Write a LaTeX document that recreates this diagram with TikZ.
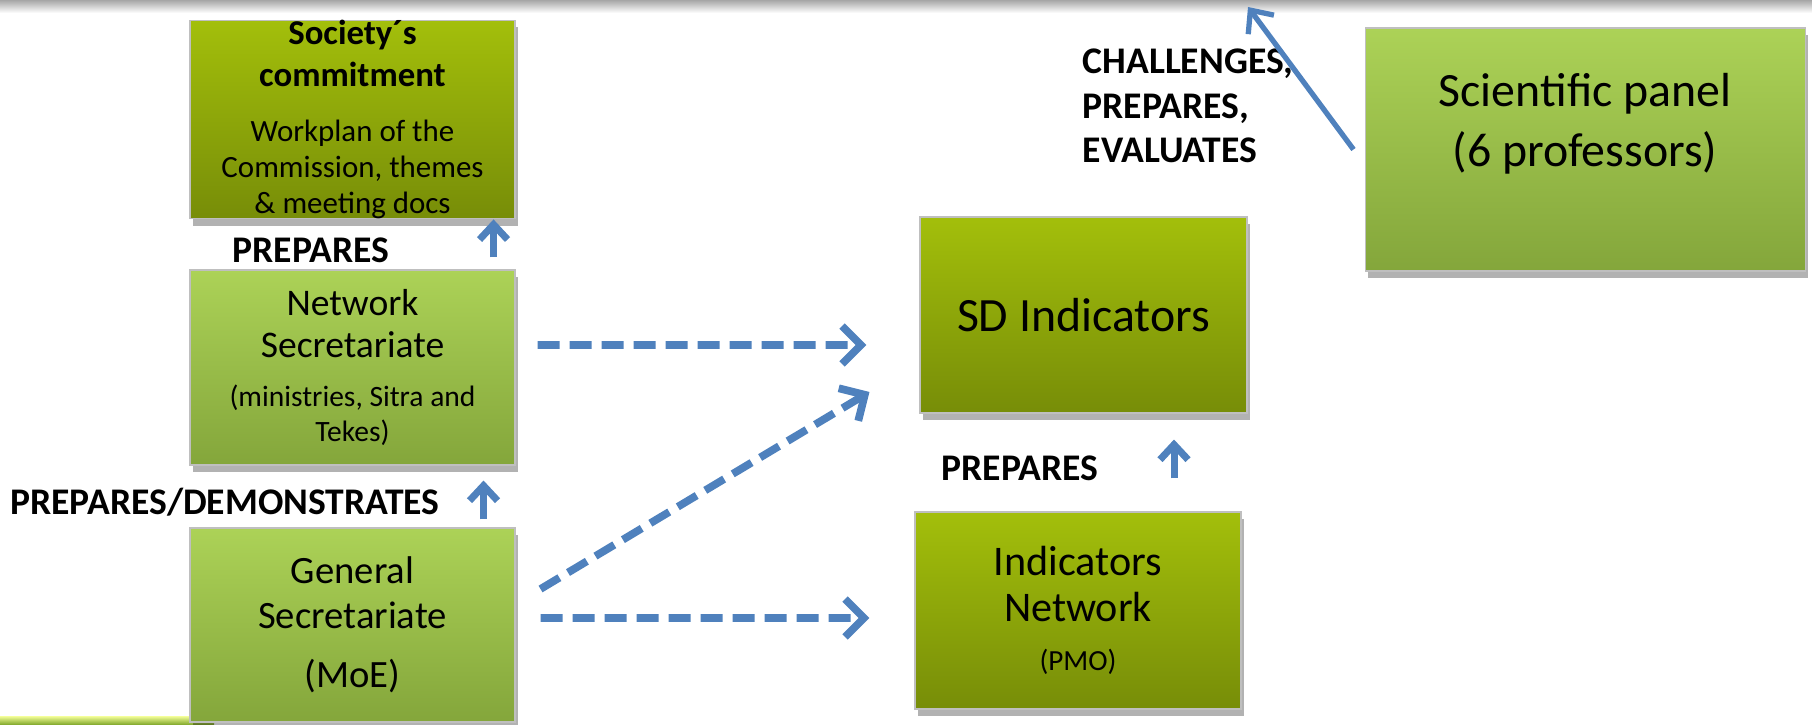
\documentclass[tikz,border=0pt]{standalone}
\usepackage{fontspec}
\setmainfont{Carlito}
\usetikzlibrary{arrows.meta, shadows, calc, positioning}
\definecolor{oliveTop}{HTML}{A3BF0B}
\definecolor{oliveBot}{HTML}{778D08}
\definecolor{limeTop}{HTML}{ACD257}
\definecolor{limeBot}{HTML}{84A63B}
\definecolor{arrowBlue}{HTML}{4F81BD}
\tikzset{
    boxBase/.style={rectangle, draw=black!25, line width=0.3pt, inner sep=0pt, align=flush center, text width=31.5mm,
        drop shadow={shadow xshift=0.3mm, shadow yshift=-0.7mm, opacity=0.3, fill=black}},
    boxOlive/.style={boxBase, top color=oliveTop, bottom color=oliveBot},
    boxLime/.style={boxBase, top color=limeTop, bottom color=limeBot},
    verbLabel/.style={font=\bfseries\fontsize{10.7}{12.6}\selectfont, inner sep=0pt},
    upArrow/.style={-{Straight Barb[length=1.5mm, width=2.8mm]}, arrowBlue, line width=2pt},
    dashArrow/.style={-{Straight Barb[length=1.9mm, width=3.8mm]}, arrowBlue, line width=2.2pt, dash pattern=on 2.2mm off 1mm},
    panelArrow/.style={-{Straight Barb[length=1.8mm, width=3.2mm]}, arrowBlue, line width=1.5pt},
}

\begin{document}
\begin{tikzpicture}[x=0.1mm, y=0.1mm]
    \useasboundingbox (0,0) rectangle (1812,724);

    % slide edges
    \shade[top color=gray!70, bottom color=white] (0,711) rectangle (1812,724);
    \shade[top color=green!10!yellow!40, bottom color=green!30!yellow!60!black!80] (0,0) rectangle (214,8);

    % boxes
    \node[boxOlive, minimum width=32.5mm, minimum height=19.5mm] (soc) at (352.5,604.5)
        {{\bfseries\fontsize{9.9}{12}\selectfont Society´s\\commitment\par}\vspace{5.5pt}
         {\fontsize{8.8}{10.2}\selectfont Workplan of the\\Commission, themes\\\& meeting docs\par}};
    \node[boxLime, minimum width=32.5mm, minimum height=19.5mm] (net) at (352.5,356.5)
        {{\fontsize{10.7}{12}\selectfont Network\\Secretariate\par}\vspace{4pt}
         {\fontsize{8.4}{10}\selectfont (ministries, Sitra and\\Tekes)\par}};
    \node[boxLime, minimum width=32.5mm, minimum height=19.4mm] (gen) at (352.5,99)
        {{\fontsize{11}{12.8}\selectfont General\\Secretariate\par}\vspace{4pt}
         {\fontsize{11}{12.8}\selectfont (MoE)\par}};
    \node[boxOlive, minimum width=32.7mm, minimum height=19.6mm, font=\fontsize{13.6}{16}\selectfont] (sdi) at (1083.5,409)
        {SD Indicators};
    \node[boxOlive, minimum width=32.6mm, minimum height=19.7mm] (ind) at (1078,113.5)
        {{\fontsize{12}{13}\selectfont Indicators\\Network\par}\vspace{4pt}
         {\fontsize{8.3}{10}\selectfont (PMO)\par}};
    \node[boxLime, minimum width=44mm, minimum height=24.3mm] (sci) at (1585,574.5) {};
    \node[align=center, inner sep=0pt, font=\fontsize{13.6}{17}\selectfont] (sciText) at ([yshift=2.6mm]sci.center)
        {Scientific panel\\(6 professors)};

    % verbs
    \node[verbLabel] (prepTop) at (311,474) {PREPARES};
    \node[verbLabel] (prepDemo) at (225,222) {PREPARES/DEMONSTRATES};
    \node[verbLabel] (prepInd) at (1020,256) {PREPARES};
    \node[verbLabel, align=left, anchor=west] (challenge) at (1082,618) {CHALLENGES,\\PREPARES,\\EVALUATES};

    % arrows
    \coordinate (indUp) at ([xshift=9.6mm]ind.north);
    \coordinate (panelTip) at (1248,717);
    \draw[upArrow, shorten <=1.2mm] ([xshift=-2.2mm]net.north east) -- ([xshift=-2.2mm]soc.south east);
    \draw[upArrow, shorten <=0.8mm, shorten >=1.5mm] ([xshift=-3.2mm]gen.north east) -- ([xshift=-3.2mm]net.south east);
    \draw[upArrow, shorten <=3.3mm, shorten >=2.6mm] (indUp) -- (indUp |- sdi.south);
    \draw[dashArrow] ([shift={(2.2mm,2.25mm)}]net.east) -- ([shift={(-5.3mm,-3mm)}]sdi.west);
    \draw[dashArrow] ([shift={(2.5mm,3.6mm)}]gen.east) -- ([shift={(-5mm,-7.7mm)}]sdi.west);
    \draw[dashArrow] ([shift={(2.5mm,0.7mm)}]gen.east) -- ([shift={(-4.5mm,-0.75mm)}]ind.west);
    \draw[panelArrow] ([xshift=-1.1mm]sci.west) -- (panelTip);

\end{tikzpicture}
\end{document}
